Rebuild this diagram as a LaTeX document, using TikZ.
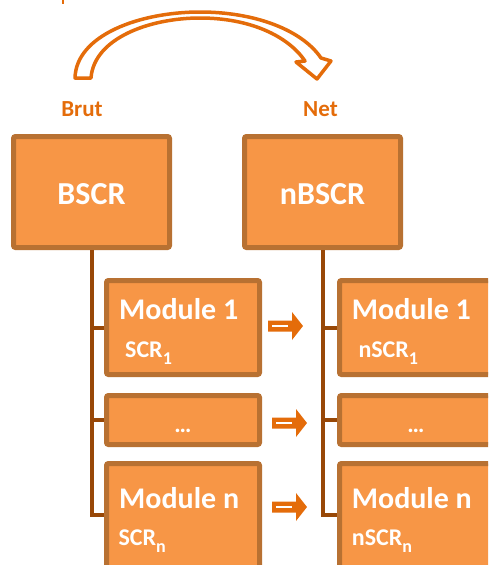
\documentclass[tikz,border=0pt]{standalone}
\usepackage{fontspec}
\setmainfont{Carlito}
\definecolor{boxfill}{RGB}{247,150,70}
\definecolor{boxborder}{RGB}{184,113,50}
\definecolor{trunkc}{RGB}{152,72,7}
\definecolor{accent}{RGB}{228,108,10}
\newcommand{\mysub}[1]{\raisebox{-7pt}{\fontsize{18}{21}\selectfont #1}}
\tikzset{
  box/.style={draw=boxborder, fill=boxfill, line width=5pt, rounded corners=2pt, inner sep=0pt},
  big/.style={text=white, font=\bfseries\fontsize{32}{38}\selectfont, inner sep=0pt},
  modtxt/.style={text=white, font=\bfseries\fontsize{30}{36}\selectfont, inner sep=0pt, anchor=base west},
  subtxt/.style={text=white, font=\bfseries\fontsize{24}{29}\selectfont, inner sep=0pt, anchor=base west},
  toplbl/.style={text=accent, font=\bfseries\fontsize{23}{27}\selectfont, inner sep=0pt, anchor=base},
  trunk/.style={draw=trunkc, line width=4pt},
  blockarrow/.pic={
    \fill[accent] (0,-5.5) -- (24,-5.5) -- (24,-14) -- (35,0) -- (24,14) -- (24,5.5) -- (0,5.5) -- cycle;
    \draw[white, line width=1.2pt] (4,0) -- (20,0);
  }
}
\begin{document}
\begin{tikzpicture}[x=1pt,y=-1pt]
\useasboundingbox (0,0) rectangle (488,565);
\clip (0,0) rectangle (488,565);

% tiny cut-off mark
\fill[accent] (61.5,0) rectangle (63.5,4);

% curved hollow arrow
\draw[accent, line width=3.5pt, line join=round, fill=white]
  (75,78) .. controls (76,35) and (140,12) .. (200,12)
  .. controls (255,12) and (302,30) .. (321,58)
  -- (331,61) -- (317,79) -- (296,62) -- (305,61)
  .. controls (288,36) and (250,18) .. (200,18)
  .. controls (150,18) and (94,38) .. (91,78) -- cycle;

\node[toplbl] (brut) at (82,116.5) {Brut};
\node[toplbl] (net) at (320.5,116.5) {Net};

% top boxes
\node[box, minimum width=156pt, minimum height=111pt] (bscr) at (91.5,192) {};
\node[box, minimum width=156pt, minimum height=111pt] (nbscr) at (322.5,192) {};
\node[big] (bscrt) at (91.5,194) {BSCR};
\node[big] (nbscrt) at (322.5,194) {nBSCR};

% module box positions
\path (183,327.5) coordinate (c1) (183,420) coordinate (c2) (183,521) coordinate (c3)
      (416,327.5) coordinate (d1) (416,420) coordinate (d2) (416,521) coordinate (d3);

% trunks
\draw[trunk] (bscr.south) -- (bscr.south |- 0,515) -- (106,515);
\draw[trunk] (bscr.south |- 0,327.5) -- (106,327.5);
\draw[trunk] (bscr.south |- 0,420) -- (106,420);
\draw[trunk] (nbscr.south) -- (nbscr.south |- 0,515) -- (339,515);
\draw[trunk] (nbscr.south |- 0,327.5) -- (339,327.5);
\draw[trunk] (nbscr.south |- 0,420) -- (339,420);

\node[box, minimum width=153pt, minimum height=94pt] (m1) at (c1) {};
\node[box, minimum width=153pt, minimum height=49pt] (m2) at (c2) {};
\node[box, minimum width=153pt, minimum height=115pt] (m3) at (c3) {};
\node[box, minimum width=153pt, minimum height=94pt] (n1) at (d1) {};
\node[box, minimum width=153pt, minimum height=49pt] (n2) at (d2) {};
\node[box, minimum width=153pt, minimum height=115pt] (n3) at (d3) {};

% texts
\node[modtxt] (m1a) at (119,319.3) {Module 1};
\node[subtxt] (m1b) at (125,357.3) {SCR\mysub{1}};
\node[subtxt, anchor=base] (m2a) at (183,432) {\dots};
\node[modtxt] (m3a) at (119,508.3) {Module n};
\node[subtxt] (m3b) at (118.3,545) {SCR\mysub{n}};

\node[modtxt] (n1a) at (351.7,319.3) {Module 1};
\node[subtxt] (n1b) at (358.3,357.3) {nSCR\mysub{1}};
\node[subtxt, anchor=base] (n2a) at (416,432) {\dots};
\node[modtxt] (n3a) at (351.7,508.3) {Module n};
\node[subtxt] (n3b) at (351.7,545) {nSCR\mysub{n}};

% block arrows
\pic (a1) at (268,326) {blockarrow};
\pic (a2) at (272,423) {blockarrow};
\pic (a3) at (272,507) {blockarrow};
\end{tikzpicture}
\end{document}
